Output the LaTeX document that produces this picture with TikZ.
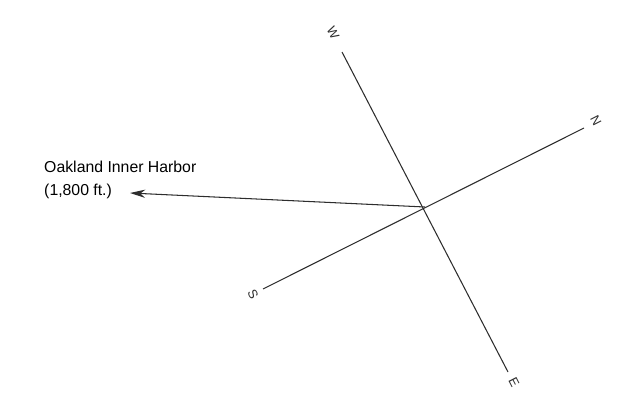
\documentclass[tikz,border=0pt]{standalone}
\usepackage{fontspec}
\setmainfont{Liberation Sans}
\usetikzlibrary{positioning,arrows.meta}
\definecolor{InkGray}{RGB}{45,45,45}

\begin{document}
\begin{tikzpicture}[
x=0.03cm, y=-0.03cm,
font=\fontsize{13.5}{19}\selectfont,
axis/.style={draw=InkGray, line width=0.9pt},
arr/.style={-{Stealth[length=13pt,width=7pt]}, line width=0.9pt, draw=InkGray},
dirlabel/.style={inner sep=1pt, rotate=-63, text=InkGray, font=\fontsize{11}{12}\selectfont},
harbor/.style={align=left, anchor=west, inner sep=0pt, text=black}
]
\useasboundingbox (0,0) rectangle (621,392);
\coordinate (ctr) at (425,207);
\coordinate (wend) at (342,52);
\coordinate (eend) at (508,372);
\coordinate (nend) at (584,128);
\coordinate (send) at (263,289);

\node[dirlabel] (wlbl) at (333,33) {W};
\node[dirlabel] (elbl) at (514,382) {E};
\node[dirlabel] (nlbl) at (596,121) {N};
\node[dirlabel] (slbl) at (253,294) {S};
\node[harbor] (oak) at (44,180) {Oakland Inner Harbor\\(1,800 ft.)};
\coordinate (tip) at (130,193);

\draw[axis] (wend) -- (eend);
\draw[axis] (send) -- (nend);
\draw[arr] (ctr) -- (tip);
\end{tikzpicture}
\end{document}
